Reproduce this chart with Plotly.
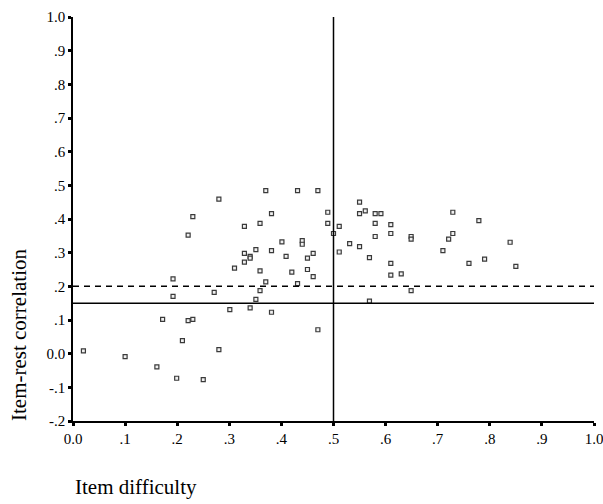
import plotly.graph_objects as go

# Item difficulty (x) and item-rest correlation (y)
difficulty = [
    0.020, 0.100, 0.161, 0.172, 0.192, 0.192, 0.199, 0.210, 0.221, 0.230,
    0.221, 0.230, 0.250, 0.271, 0.280, 0.280, 0.301, 0.310, 0.370, 0.431,
    0.470, 0.381, 0.359, 0.329, 0.489, 0.489, 0.511, 0.550, 0.550, 0.500,
    0.401, 0.440, 0.440, 0.531, 0.550, 0.351, 0.381, 0.329, 0.340, 0.340,
    0.511, 0.461, 0.409, 0.450, 0.329, 0.359, 0.420, 0.450, 0.461, 0.370,
    0.431, 0.359, 0.351, 0.340, 0.381, 0.470, 0.561, 0.580, 0.591, 0.580,
    0.610, 0.610, 0.580, 0.649, 0.649, 0.569, 0.610, 0.610, 0.630, 0.649,
    0.569, 0.729, 0.779, 0.729, 0.721, 0.710, 0.760, 0.790, 0.839, 0.850,
]
correlation = [
    0.008, -0.009, -0.039, 0.102, 0.222, 0.170, -0.073, 0.039, 0.352, 0.407,
    0.098, 0.102, -0.077, 0.182, 0.459, 0.012, 0.131, 0.254, 0.484, 0.484,
    0.484, 0.416, 0.387, 0.378, 0.420, 0.387, 0.378, 0.450, 0.416, 0.357,
    0.332, 0.336, 0.325, 0.327, 0.318, 0.309, 0.306, 0.298, 0.289, 0.284,
    0.302, 0.298, 0.289, 0.284, 0.272, 0.246, 0.242, 0.250, 0.229, 0.213,
    0.208, 0.187, 0.161, 0.136, 0.123, 0.071, 0.424, 0.416, 0.416, 0.387,
    0.383, 0.357, 0.348, 0.348, 0.340, 0.285, 0.268, 0.233, 0.237, 0.187,
    0.156, 0.420, 0.395, 0.357, 0.340, 0.306, 0.268, 0.281, 0.331, 0.259,
]

x_tickvals = [0.0, 0.1, 0.2, 0.3, 0.4, 0.5, 0.6, 0.7, 0.8, 0.9, 1.0]
x_ticktext = ["0.0", ".1", ".2", ".3", ".4", ".5", ".6", ".7", ".8", ".9", "1.0"]
y_tickvals = [-0.2, -0.1, 0.0, 0.1, 0.2, 0.3, 0.4, 0.5, 0.6, 0.7, 0.8, 0.9, 1.0]
y_ticktext = ["-.2", "-.1", "0.0", ".1", ".2", ".3", ".4", ".5", ".6", ".7", ".8", ".9", "1.0"]

ref_difficulty = 0.5
ref_corr_solid = 0.15
ref_corr_dashed = 0.2

FONT = "Liberation Serif, Times New Roman, serif"

fig = go.Figure()
fig.add_trace(go.Scatter(
    x=difficulty, y=correlation, mode="markers",
    marker=dict(symbol="square", size=4, color="#f0f0f0",
                line=dict(color="#3a3a3a", width=1.2)),
    showlegend=False, hoverinfo="x+y",
))

fig.add_shape(type="line", xref="x", yref="y", x0=ref_difficulty, x1=ref_difficulty,
              y0=-0.2, y1=1.0, line=dict(color="black", width=1.5))
fig.add_shape(type="line", xref="x", yref="y", x0=0, x1=1,
              y0=ref_corr_solid, y1=ref_corr_solid, line=dict(color="black", width=1.5))
fig.add_shape(type="line", xref="x", yref="y", x0=0, x1=1,
              y0=ref_corr_dashed, y1=ref_corr_dashed,
              line=dict(color="black", width=1.5, dash="6px,5px"))

fig.update_layout(
    width=603, height=504,
    margin=dict(l=73, r=9, t=17, b=83),
    paper_bgcolor="white", plot_bgcolor="white",
    font=dict(family=FONT, color="black", size=15),
    xaxis=dict(range=[0, 1], tickvals=x_tickvals, ticktext=x_ticktext,
               showgrid=False, zeroline=False, showline=True, linecolor="black",
               linewidth=1.5, ticks="outside", ticklen=3, tickwidth=3,
               tickcolor="black", tickfont=dict(family=FONT, size=15),
               ticklabeloverflow="allow", automargin=False),
    yaxis=dict(range=[-0.2, 1.0], tickvals=y_tickvals, ticktext=y_ticktext,
               showgrid=False, zeroline=False, showline=True, linecolor="black",
               linewidth=1.5, ticks="outside", ticklen=3, tickwidth=3,
               tickcolor="black", tickfont=dict(family=FONT, size=15),
               ticklabeloverflow="allow", automargin=False),
    annotations=[
        dict(text="Item difficulty", xref="paper", yref="paper",
             x=0.0, y=-0.163, xanchor="left", yanchor="middle",
             showarrow=False, font=dict(family=FONT, size=21)),
        dict(text="Item-rest correlation", xref="paper", yref="paper",
             x=-0.1036, y=0.2129, xanchor="center", yanchor="middle",
             textangle=-90, showarrow=False, font=dict(family=FONT, size=21)),
    ],
)

fig.write_html("out.html")
